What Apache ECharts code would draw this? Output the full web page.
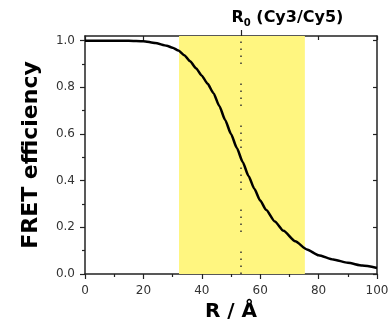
<!DOCTYPE html>
<html>
<head>
<meta charset="utf-8">
<script src="https://cdn.jsdelivr.net/npm/echarts@6/dist/echarts.min.js"></script>
<style>
    html, body { margin: 0; padding: 0; background: #ffffff; }
    #fretChart { width: 392px; height: 329px; }
</style>
</head>
<body>
<div id="fretChart"></div>
<script>
    // distance R (Å) and FRET efficiency
    var distance = [0, 5, 10, 15, 20, 24, 28, 30, 32, 34, 36, 38, 40, 42, 44, 46, 48, 50, 52, 54, 56, 58, 60, 62, 65, 68, 72, 76, 80, 85, 90, 95, 100];
    var efficiency = [1.0, 1.0, 1.0, 1.0, 0.998, 0.99, 0.978, 0.97, 0.958, 0.938, 0.912, 0.882, 0.85, 0.815, 0.775, 0.72, 0.66, 0.6, 0.54, 0.48, 0.42, 0.365, 0.315, 0.275, 0.225, 0.185, 0.14, 0.105, 0.08, 0.062, 0.048, 0.036, 0.026];
    // Förster radius and the shaded working range
    var r0 = 53.4;
    var bandRange = [32.2, 75.3];
    var xTicks = [0, 20, 40, 60, 80, 100];
    var yTicks = [0, 0.2, 0.4, 0.6, 0.8, 1.0];
    var yMinorTicks = [0.1, 0.3, 0.5, 0.7, 0.9];
    var yMax = 1.02;

    var axisColor = '#222';
    var fretChart = echarts.init(document.getElementById('fretChart'));

    var options = {
        animation: false,
        grid: {
            left: 85,
            right: 15,
            top: 36,
            bottom: 55
        },
        xAxis: [
            {
                type: 'value',
                position: 'bottom',
                min: 0,
                max: 100,
                interval: 20,
                name: 'R / Å',
                nameLocation: 'middle',
                nameGap: 27,
                nameTextStyle: {
                    fontFamily: 'DejaVu Sans',
                    fontWeight: 'bold',
                    fontSize: 20,
                    color: '#000'
                },
                splitLine: { show: false },
                axisLine: { onZero: false, lineStyle: { color: axisColor, width: 1.5 } },
                axisTick: {
                    inside: false,
                    length: 5,
                    customValues: xTicks,
                    lineStyle: { color: axisColor, width: 1.2 }
                },
                minorTick: {
                    show: true,
                    splitNumber: 2,
                    length: 3,
                    lineStyle: { color: axisColor, width: 1.2 }
                },
                axisLabel: {
                    margin: 11,
                    customValues: xTicks,
                    fontFamily: 'DejaVu Sans',
                    fontSize: 12,
                    color: '#333'
                }
            },
            {
                type: 'value',
                position: 'top',
                min: 0,
                max: 100,
                interval: 20,
                splitLine: { show: false },
                axisLine: { onZero: false, lineStyle: { color: axisColor, width: 1.5 } },
                axisTick: {
                    inside: true,
                    length: 4,
                    customValues: xTicks,
                    lineStyle: { color: axisColor, width: 1.2 }
                },
                axisLabel: { show: false }
            },
            {
                // marker tick and label for R0 above the frame
                type: 'value',
                position: 'top',
                min: 0,
                max: 100,
                splitLine: { show: false },
                axisLine: { show: false, onZero: false },
                axisTick: {
                    inside: false,
                    length: 6,
                    customValues: [r0],
                    lineStyle: { color: axisColor, width: 1.2 }
                },
                axisLabel: {
                    margin: 8,
                    customValues: [r0],
                    formatter: function () {
                        return '{pad|}{b|R}{s|0}{b| (Cy3/Cy5)}';
                    },
                    rich: {
                        pad: { width: 93 },
                        b: {
                            fontFamily: 'DejaVu Sans',
                            fontWeight: 'bold',
                            fontSize: 16,
                            lineHeight: 20,
                            color: '#000'
                        },
                        s: {
                            fontFamily: 'DejaVu Sans',
                            fontWeight: 'bold',
                            fontSize: 10,
                            lineHeight: 10,
                            verticalAlign: 'bottom',
                            color: '#000'
                        }
                    }
                }
            }
        ],
        yAxis: [
            {
                type: 'value',
                position: 'left',
                min: 0,
                max: yMax,
                name: 'FRET efficiency',
                nameLocation: 'middle',
                nameRotate: 90,
                nameGap: 43,
                nameTextStyle: {
                    fontFamily: 'DejaVu Sans',
                    fontWeight: 'bold',
                    fontSize: 22,
                    color: '#000'
                },
                splitLine: { show: false },
                axisLine: { onZero: false, lineStyle: { color: axisColor, width: 1.5 } },
                axisTick: {
                    inside: false,
                    length: 5,
                    customValues: yTicks,
                    lineStyle: { color: axisColor, width: 1.2 }
                },
                axisLabel: {
                    margin: 10,
                    customValues: yTicks,
                    formatter: function (v) { return v.toFixed(1); },
                    fontFamily: 'DejaVu Sans',
                    fontSize: 12,
                    color: '#333'
                }
            },
            {
                // minor ticks on the left side
                type: 'value',
                position: 'left',
                min: 0,
                max: yMax,
                splitLine: { show: false },
                axisLine: { show: false, onZero: false },
                axisTick: {
                    inside: false,
                    length: 3,
                    customValues: yMinorTicks,
                    lineStyle: { color: axisColor, width: 1.2 }
                },
                axisLabel: { show: false }
            },
            {
                type: 'value',
                position: 'right',
                min: 0,
                max: yMax,
                splitLine: { show: false },
                axisLine: { onZero: false, lineStyle: { color: axisColor, width: 1.5 } },
                axisTick: {
                    inside: true,
                    length: 4,
                    customValues: yTicks,
                    lineStyle: { color: axisColor, width: 1.2 }
                },
                axisLabel: { show: false }
            }
        ],
        series: [
            {
                name: 'FRET efficiency',
                type: 'line',
                xAxisIndex: 0,
                yAxisIndex: 0,
                data: distance.map(function (r, i) { return [r, efficiency[i]]; }),
                showSymbol: false,
                smooth: 0.2,
                smoothMonotone: 'x',
                lineStyle: { color: '#000', width: 2.5 },
                z: 5,
                markArea: {
                    silent: true,
                    itemStyle: { color: '#fff680' },
                    data: [[{ xAxis: bandRange[0] }, { xAxis: bandRange[1] }]]
                },
                markLine: {
                    silent: true,
                    symbol: 'none',
                    label: { show: false },
                    lineStyle: {
                        color: '#333',
                        width: 1.5,
                        type: [1.5, 5.5, 1.5, 5.5, 1.5, 5.5, 1.5, 19.5]
                    },
                    data: [[{ coord: [r0, 0] }, { coord: [r0, 1.0] }]]
                }
            }
        ]
    };

    fretChart.setOption(options);
</script>
</body>
</html>
